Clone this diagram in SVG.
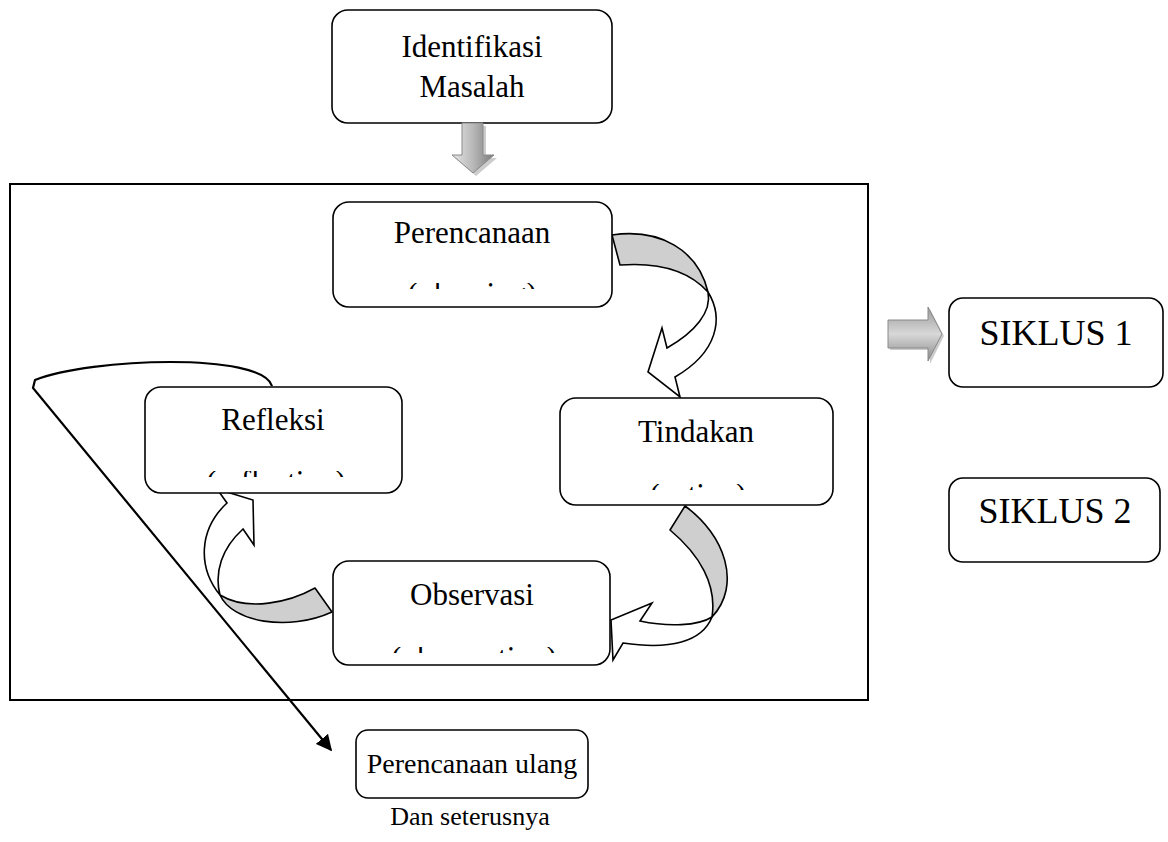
<svg xmlns="http://www.w3.org/2000/svg" width="1168" height="842" viewBox="0 0 1168 842">
<style>
.box{fill:#fff;stroke:#000;stroke-width:1.6}
.t{font-family:"Liberation Serif","Times New Roman",serif;font-size:31px;fill:#000;text-anchor:middle}
.big{font-size:36px}
.gray{fill:#cfcfcf;stroke:#000;stroke-width:1.6;stroke-linejoin:round}
.wht{fill:#fff;stroke:#000;stroke-width:1.6;stroke-linejoin:miter}
.frame{fill:none;stroke:#000;stroke-width:2}
</style>
<defs>
<linearGradient id="gv" x1="0" y1="0" x2="1" y2="0">
<stop offset="0" stop-color="#e6e6e6"/><stop offset="0.5" stop-color="#b8b8b8"/><stop offset="1" stop-color="#7a7a7a"/>
</linearGradient>
<linearGradient id="gh" x1="0" y1="0" x2="0" y2="1">
<stop offset="0" stop-color="#9a9a9a"/><stop offset="0.5" stop-color="#d8d8d8"/><stop offset="1" stop-color="#8a8a8a"/>
</linearGradient>
<clipPath id="c1"><rect x="380" y="283" width="180" height="6"/></clipPath>
<clipPath id="c2"><rect x="190" y="471" width="170" height="6"/></clipPath>
<clipPath id="c3"><rect x="630" y="484" width="140" height="6"/></clipPath>
<clipPath id="c4"><rect x="390" y="647" width="170" height="6"/></clipPath>
<marker id="ah" viewBox="0 0 10 10" refX="9" refY="5" markerWidth="16" markerHeight="16" markerUnits="userSpaceOnUse" orient="auto">
<path d="M0,0 L10,5 L0,10 z" fill="#000"/>
</marker>
</defs>

<rect class="frame" x="10" y="184" width="858" height="516"/>

<g id="identifikasi">
<rect class="box" x="332" y="10" width="280" height="113" rx="16"/>
<text class="t" x="472" y="57">Identifikasi</text>
<text class="t" x="472" y="97">Masalah</text>
</g>

<g id="connectors">
<path d="M464,124 L484,124 L484,156 L495,156 L474,174 L453,156 L464,156 Z" fill="#999" opacity="0.5" transform="translate(2,2)"/>
<path d="M462,123 L483,123 L483,155 L494,155 L473,173 L452,155 L462,155 Z" fill="url(#gv)" stroke="#8a8a8a" stroke-width="1"/>
<path d="M890,322 L930,322 L930,309 L944,336 L930,364 L930,350 L890,350 Z" fill="#999" opacity="0.5"/>
<path d="M888,320 L928,320 L928,307 L942,334 L928,361 L928,348 L888,348 Z" fill="url(#gh)" stroke="#8a8a8a" stroke-width="1"/>

<path class="gray" d="M612,235 C660,228 698,250 708,292 C690,272 660,262 620,265 Z"/>
<path class="wht" d="M708,292 C724,318 718,352 675,377 L680,397 L648,372 L662,328 L667,348 C695,332 712,312 708,292 Z"/>

<path class="gray" d="M685,506 C725,535 742,585 712,617 C717,585 700,555 670,530 Z"/>
<path class="wht" d="M712,617 C702,642 670,650 623,643 L613,660 L611,620 L652,603 L640,621 C668,627 698,626 712,617 Z"/>

<path class="gray" d="M315,588 C290,602 248,612 220,595 C232,622 288,632 332,612 Z"/>
<path class="wht" d="M220,595 C198,568 198,530 227,503 L217,489 L253,500 L254,545 L243,529 C222,548 214,572 220,595 Z"/>

<path d="M272,386 C262,352 90,358 35,380 L33,388 L331,750" fill="none" stroke="#000" stroke-width="2.2" marker-end="url(#ah)"/>
</g>

<g id="perencanaan">
<rect class="box" x="333" y="202" width="279" height="105" rx="16"/>
<text class="t" x="472" y="243">Perencanaan</text>
<text class="t" x="472" y="304" clip-path="url(#c1)">(planning)</text>
</g>

<g id="tindakan">
<rect class="box" x="560" y="398" width="273" height="107" rx="16"/>
<text class="t" x="696" y="442">Tindakan</text>
<text class="t" x="698" y="505" clip-path="url(#c3)">(action)</text>
</g>

<g id="refleksi">
<rect class="box" x="145" y="387" width="257" height="106" rx="16"/>
<text class="t" x="273" y="430">Refleksi</text>
<text class="t" x="276" y="492" clip-path="url(#c2)">(reflection)</text>
</g>

<g id="observasi">
<rect class="box" x="333" y="561" width="277" height="104" rx="16"/>
<text class="t" x="472" y="605">Observasi</text>
<text class="t" x="474" y="668" clip-path="url(#c4)">(observation)</text>
</g>

<g id="siklus1">
<rect class="box" x="949" y="298" width="214" height="89" rx="14"/>
<text class="t big" x="1056" y="345">SIKLUS 1</text>
</g>

<g id="siklus2">
<rect class="box" x="949" y="478" width="211" height="84" rx="14"/>
<text class="t big" x="1055" y="523">SIKLUS 2</text>
</g>

<g id="perencanaan-ulang">
<rect class="box" x="356" y="730" width="232" height="68" rx="12"/>
<text class="t" x="472" y="773" style="font-size:28px">Perencanaan ulang</text>
</g>

<g id="dan-seterusnya">
<text class="t" x="470" y="825" style="font-size:26px">Dan seterusnya</text>
</g>
</svg>
